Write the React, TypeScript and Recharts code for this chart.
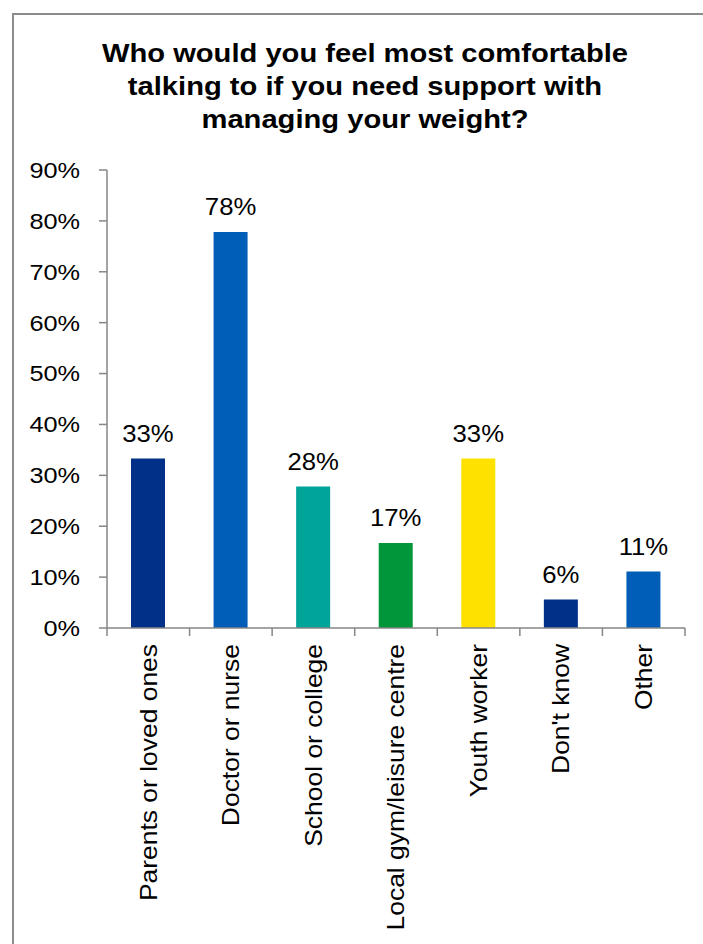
import { BarChart, Bar, XAxis, YAxis, Cell, LabelList } from 'recharts'

const categories = [
  'Parents or loved ones',
  'Doctor or nurse',
  'School or college',
  'Local gym/leisure centre',
  'Youth worker',
  "Don't know",
  'Other',
]
const shares = [33.3, 77.8, 27.8, 16.7, 33.3, 5.6, 11.1]
const barColors = ['#003087', '#005EB8', '#00A499', '#009639', '#FFE100', '#003087', '#005EB8']
const yTicks = [0, 10, 20, 30, 40, 50, 60, 70, 80, 90]
const titleLines = [
  'Who would you feel most comfortable',
  'talking to if you need support with',
  'managing your weight?',
]

const data = categories.map((name, i) => ({ name, value: shares[i] }))

const FONT = '"Liberation Sans", Arial, sans-serif'
const AXIS_GREY = '#868686'

const YTick = ({ x, y, payload }: any) => (
  <text
    transform={`translate(${x - 17}, ${y}) scale(1.15, 1)`}
    textAnchor="end"
    dy="0.36em"
    fontSize={22}
    fontFamily={FONT}
    fill="#000"
  >
    {`${payload.value}%`}
  </text>
)

// category ticks sit on the band edges, label is centred on the band
const XTick = ({ x, y, payload, index }: any) => {
  const half = payload.offset || 41.3
  return (
    <g>
      <line x1={x - half} y1={y} x2={x - half} y2={y + 8} stroke={AXIS_GREY} strokeWidth={1.5} />
      {index === categories.length - 1 && (
        <line x1={x + half} y1={y} x2={x + half} y2={y + 8} stroke={AXIS_GREY} strokeWidth={1.5} />
      )}
      <text
        transform={`translate(${x}, ${y + 16}) rotate(-90) scale(1.15, 1)`}
        textAnchor="end"
        dy="0.36em"
        fontSize={23}
        fontFamily={FONT}
        fill="#000"
      >
        {payload.value}
      </text>
    </g>
  )
}

const ValueLabel = ({ x, y, width, value }: any) => (
  <text
    transform={`translate(${x + width / 2}, ${y - 17}) scale(1.05, 1)`}
    textAnchor="middle"
    fontSize={24.5}
    fontFamily={FONT}
    fill="#000"
  >
    {`${Math.round(value)}%`}
  </text>
)

export default function App() {
  return (
    <div style={{ position: 'absolute', left: 0, top: 0, width: 703, height: 944, background: '#fff', overflow: 'hidden' }}>
      <svg width={703} height={944} style={{ position: 'absolute', left: 0, top: 0 }}>
        <rect x={13} y={14} width={800} height={1000} fill="none" stroke="#8c8c8c" strokeWidth={2} />
        {titleLines.map((line, i) => (
          <text
            key={line}
            transform={`translate(365, ${62 + i * 33}) scale(1.1, 1)`}
            textAnchor="middle"
            fontSize={26.5}
            fontWeight="bold"
            fontFamily={FONT}
            fill="#000"
          >
            {line}
          </text>
        ))}
      </svg>
      <div style={{ position: 'absolute', left: 0, top: 0 }}>
        <BarChart
          width={703}
          height={944}
          data={data}
          margin={{ top: 170, right: 18, bottom: 0, left: 0 }}
        >
          <XAxis
            dataKey="name"
            interval={0}
            height={316}
            tickSize={0}
            tickMargin={0}
            axisLine={{ stroke: AXIS_GREY, strokeWidth: 1.5 }}
            tickLine={false}
            tick={<XTick />}
          />
          <YAxis
            width={107}
            domain={[0, 90]}
            ticks={yTicks}
            interval={0}
            tickSize={8}
            axisLine={{ stroke: AXIS_GREY, strokeWidth: 1.5 }}
            tickLine={{ stroke: AXIS_GREY, strokeWidth: 1.5 }}
            tick={<YTick />}
          />
          <Bar dataKey="value" barSize={34} isAnimationActive={false}>
            {data.map((d, i) => (
              <Cell key={d.name} fill={barColors[i]} />
            ))}
            <LabelList dataKey="value" content={<ValueLabel />} />
          </Bar>
        </BarChart>
      </div>
    </div>
  )
}
